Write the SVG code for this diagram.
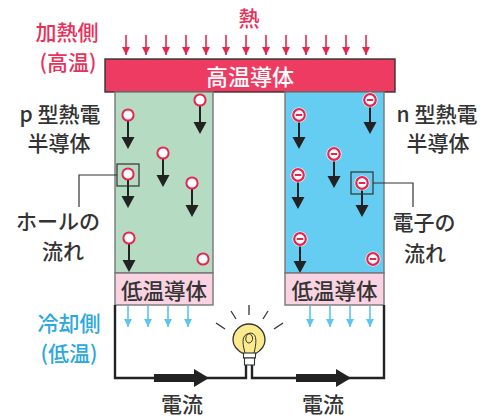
<svg xmlns="http://www.w3.org/2000/svg" width="486" height="419" viewBox="0 0 486 419">
  <style>
    text { font-family: "Noto Sans CJK JP", "Noto Sans", sans-serif; text-anchor: middle; dominant-baseline: central; font-weight: 500; }
    .lbl { font-size: 21px; fill: #333; }
    .hot { font-size: 21px; fill: #e8315b; }
    .cold { font-size: 21px; fill: #2ba8df; }
    .inbox { font-size: 21.5px; fill: #333; }
    .heat { stroke: #e6264f; stroke-width: 1.6; fill: none; }
    .coolln { stroke: #5cc5f2; stroke-width: 1.6; fill: none; }
    .wire { stroke: #222; stroke-width: 2.4; fill: none; }
    .flow { stroke: #222; stroke-width: 2; }
    .hole { fill: #fff; stroke: #e6264f; stroke-width: 2; }
    .elec { fill: #fff; stroke: #e6264f; stroke-width: 2.2; }
    .halo { fill: #fff; }
    .minus { stroke: #e6264f; stroke-width: 2; }
    .frame { fill: none; stroke: #333; stroke-width: 1.2; }
    .lead { fill: none; stroke: #333; stroke-width: 1.2; }
  </style>
  <defs>
    <marker id="heatHead" viewBox="0 0 8 8" refX="4" refY="8" markerWidth="8" markerHeight="8" markerUnits="userSpaceOnUse">
      <path d="M0,0 L8,0 L4,8 Z" fill="#e6264f"/>
    </marker>
    <marker id="coolHead" viewBox="0 0 8 8" refX="4" refY="8" markerWidth="8" markerHeight="8" markerUnits="userSpaceOnUse">
      <path d="M0,0 L8,0 L4,8 Z" fill="#5cc5f2"/>
    </marker>
    <!-- downward carrier arrow, origin at carrier centre -->
    <g id="drift">
      <line class="flow" x1="0" y1="5" x2="0" y2="23"/>
      <path d="M-6.5,22 L6.5,22 L0,34 Z" fill="#222"/>
    </g>
    <g id="holeMark">
      <circle class="hole" r="5.6"/>
    </g>
    <g id="elecMark">
      <circle class="halo" r="7.6"/>
      <circle class="elec" r="5.8"/>
      <line class="minus" x1="-3.2" y1="0" x2="3.2" y2="0"/>
    </g>
  </defs>

  <rect width="486" height="419" fill="#fff"/>

  <!-- heat input -->
  <text class="hot" x="249" y="17">熱</text>
  <g id="heat-arrows" class="heat">
    <line x1="126" y1="35" x2="126" y2="55" marker-end="url(#heatHead)"/>
    <line x1="146" y1="35" x2="146" y2="55" marker-end="url(#heatHead)"/>
    <line x1="166" y1="35" x2="166" y2="55" marker-end="url(#heatHead)"/>
    <line x1="186" y1="35" x2="186" y2="55" marker-end="url(#heatHead)"/>
    <line x1="206" y1="35" x2="206" y2="55" marker-end="url(#heatHead)"/>
    <line x1="226" y1="35" x2="226" y2="55" marker-end="url(#heatHead)"/>
    <line x1="246" y1="35" x2="246" y2="55" marker-end="url(#heatHead)"/>
    <line x1="266" y1="35" x2="266" y2="55" marker-end="url(#heatHead)"/>
    <line x1="286" y1="35" x2="286" y2="55" marker-end="url(#heatHead)"/>
    <line x1="306" y1="35" x2="306" y2="55" marker-end="url(#heatHead)"/>
    <line x1="326" y1="35" x2="326" y2="55" marker-end="url(#heatHead)"/>
    <line x1="346" y1="35" x2="346" y2="55" marker-end="url(#heatHead)"/>
    <line x1="366" y1="35" x2="366" y2="55" marker-end="url(#heatHead)"/>
  </g>
  <text class="hot" x="67" y="31">加熱側</text>
  <text class="hot" x="68" y="61">(高温)</text>

  <!-- hot-side conductor -->
  <g id="hot-conductor">
    <rect x="105" y="59" width="290" height="33" fill="#ee3b61" stroke="#333" stroke-width="1.4"/>
    <text x="250" y="75" style="font-size:22px;fill:#fff">高温導体</text>
  </g>

  <!-- p-type leg -->
  <g id="p-leg">
    <rect x="115" y="92" width="98" height="181" fill="#b5dcc2" stroke="#777" stroke-width="1.4"/>
    <use href="#drift" x="128" y="115"/><use href="#holeMark" x="128" y="115"/>
    <use href="#drift" x="200" y="100"/><use href="#holeMark" x="200" y="100"/>
    <use href="#drift" x="163" y="153"/><use href="#holeMark" x="163" y="153"/>
    <use href="#drift" x="128" y="174"/><use href="#holeMark" x="128" y="174"/>
    <use href="#drift" x="192" y="183"/><use href="#holeMark" x="192" y="183"/>
    <use href="#drift" x="129" y="238"/><use href="#holeMark" x="129" y="238"/>
    <use href="#holeMark" x="203" y="259"/>
    <rect class="frame" x="117" y="164" width="22" height="22"/>
  </g>
  <g id="p-cold">
    <rect x="115" y="273" width="98" height="32" fill="#f9d3e2" stroke="#777" stroke-width="1.4"/>
    <text class="inbox" x="164" y="289">低温導体</text>
  </g>

  <!-- n-type leg -->
  <g id="n-leg">
    <rect x="285" y="92" width="99" height="181" fill="#66cdf2" stroke="#777" stroke-width="1.4"/>
    <use href="#drift" x="299" y="115"/><use href="#elecMark" x="299" y="115"/>
    <use href="#drift" x="370" y="100"/><use href="#elecMark" x="370" y="100"/>
    <use href="#drift" x="334" y="154"/><use href="#elecMark" x="334" y="154"/>
    <use href="#drift" x="298" y="175"/><use href="#elecMark" x="298" y="175"/>
    <use href="#drift" x="362" y="183"/><use href="#elecMark" x="362" y="183"/>
    <use href="#drift" x="300" y="239"/><use href="#elecMark" x="300" y="239"/>
    <use href="#elecMark" x="373" y="259"/>
    <rect class="frame" x="351" y="172" width="22" height="22"/>
  </g>
  <g id="n-cold">
    <rect x="285" y="273" width="99" height="32" fill="#f9d3e2" stroke="#777" stroke-width="1.4"/>
    <text class="inbox" x="334.5" y="289">低温導体</text>
  </g>

  <!-- leg labels -->
  <text class="lbl" x="60" y="113">p 型熱電</text>
  <text class="lbl" x="59" y="142">半導体</text>
  <text class="lbl" x="437" y="113">n 型熱電</text>
  <text class="lbl" x="438" y="142">半導体</text>

  <!-- callouts -->
  <g id="callouts" class="lead">
    <polyline points="117,175 79,175 79,207"/>
    <polyline points="373,183 413,183 413,207"/>
  </g>
  <text class="lbl" x="58" y="220">ホールの</text>
  <text class="lbl" x="63" y="250">流れ</text>
  <text class="lbl" x="424" y="221">電子の</text>
  <text class="lbl" x="425" y="252">流れ</text>

  <!-- heat rejection -->
  <g id="cool-arrows" class="coolln">
    <line x1="128" y1="306" x2="128" y2="327" marker-end="url(#coolHead)"/>
    <line x1="148" y1="306" x2="148" y2="327" marker-end="url(#coolHead)"/>
    <line x1="168" y1="306" x2="168" y2="327" marker-end="url(#coolHead)"/>
    <line x1="188" y1="306" x2="188" y2="327" marker-end="url(#coolHead)"/>
    <line x1="310" y1="306" x2="310" y2="327" marker-end="url(#coolHead)"/>
    <line x1="330" y1="306" x2="330" y2="327" marker-end="url(#coolHead)"/>
    <line x1="350" y1="306" x2="350" y2="327" marker-end="url(#coolHead)"/>
    <line x1="370" y1="306" x2="370" y2="327" marker-end="url(#coolHead)"/>
  </g>
  <text class="cold" x="69" y="322">冷却側</text>
  <text class="cold" x="69" y="352">(低温)</text>

  <!-- external circuit -->
  <g id="connectors">
    <polyline class="wire" points="115,305 115,378 246,378 246,365"/>
    <polyline class="wire" points="384,305 384,378 252,378 252,365"/>
    <path d="M154,374 L194,374 L194,369 L209,378 L194,387 L194,382 L154,382 Z" fill="#222"/>
    <path d="M296,374 L336,374 L336,369 L351,378 L336,387 L336,382 L296,382 Z" fill="#222"/>
  </g>
  <text class="lbl" x="182" y="403">電流</text>
  <text class="lbl" x="323" y="403">電流</text>

  <!-- lamp -->
  <g id="lamp">
    <g stroke="#333" stroke-width="1.3" fill="none">
      <line x1="249" y1="305" x2="249" y2="315"/>
      <line x1="231" y1="311" x2="236" y2="319"/>
      <line x1="268" y1="311" x2="263" y2="319"/>
      <line x1="216" y1="323" x2="225" y2="329"/>
      <line x1="283" y1="323" x2="274" y2="329"/>
    </g>
    <path d="M244,354 C236,350 233,345 233,340 A16,16 0 1 1 265,340 C265,345 262,350 255,354 Z" fill="#fbeb8c" stroke="#333" stroke-width="1.3"/>
    <path d="M245,353 C243,345 241,337 247,334 C253,332 255,342 249,343 C244,343 245,333 251,333 C258,334 256,345 254,353" fill="none" stroke="#333" stroke-width="1"/>
    <rect x="243.5" y="353" width="12" height="5" fill="#fff" stroke="#333" stroke-width="1.1"/>
    <rect x="244.5" y="358" width="10" height="7" fill="#fff" stroke="#333" stroke-width="1.1"/>
  </g>
</svg>
